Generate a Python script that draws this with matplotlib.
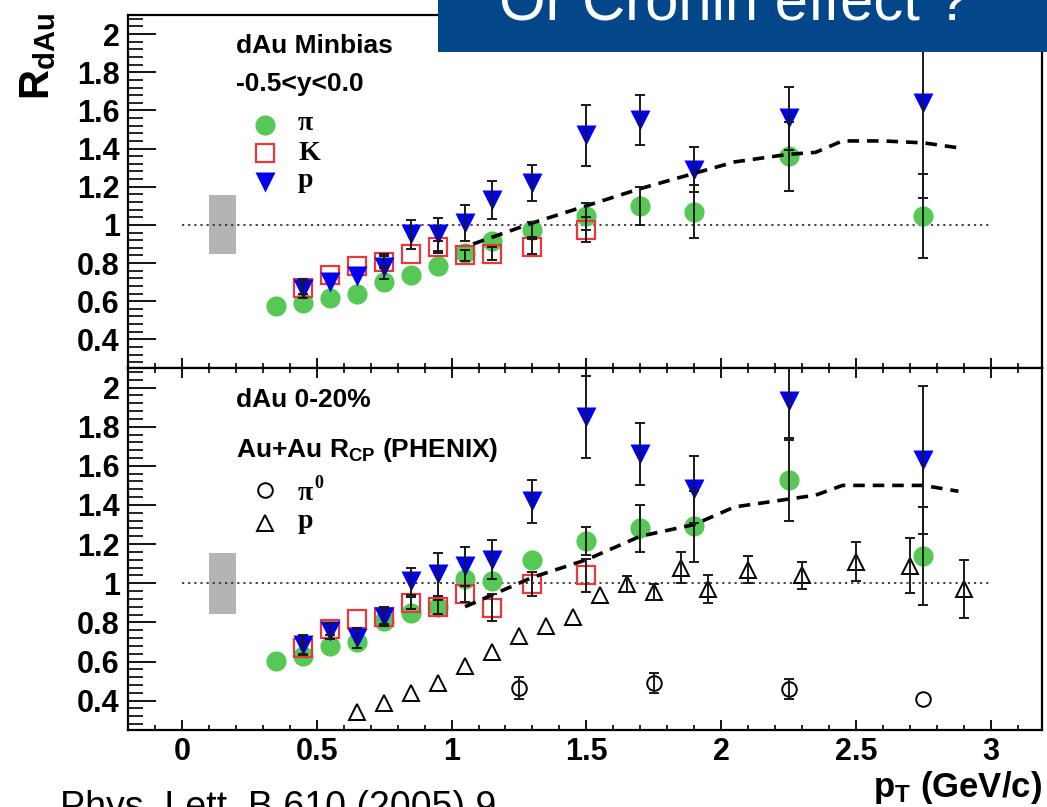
import matplotlib
matplotlib.use("Agg")
import matplotlib.pyplot as plt
from matplotlib.patches import Rectangle
from matplotlib.ticker import MultipleLocator, FuncFormatter

plt.rcParams['font.family'] = ['Liberation Sans', 'DejaVu Sans']
plt.rcParams['mathtext.fontset'] = 'custom'
plt.rcParams['mathtext.bf'] = 'Liberation Sans:bold'
plt.rcParams['mathtext.rm'] = 'Liberation Sans:bold'
plt.rcParams['mathtext.it'] = 'Liberation Sans:bold'

# ---- d+Au minimum bias, -0.5<y<0.0 ----
pt_pi = [0.35, 0.45, 0.55, 0.65, 0.75, 0.85, 0.95, 1.05, 1.15, 1.3, 1.5, 1.7, 1.9, 2.25, 2.75]
mb_pi = [0.575, 0.59, 0.615, 0.64, 0.70, 0.74, 0.785, 0.855, 0.915, 0.975, 1.045, 1.10, 1.07, 1.36, 1.045]
mb_pi_err = [0, 0, 0, 0, 0, 0, 0, 0, 0, 0.04, 0.07, 0.10, 0.14, 0.18, 0.22]

pt_k = [0.45, 0.55, 0.65, 0.75, 0.85, 0.95, 1.05, 1.15, 1.3, 1.5]
mb_k = [0.667, 0.735, 0.785, 0.805, 0.845, 0.885, 0.84, 0.85, 0.885, 0.975]
mb_k_err = [0.03, 0, 0, 0.03, 0, 0.03, 0.03, 0.035, 0.04, 0.065]

pt_p = [0.45, 0.55, 0.65, 0.75, 0.85, 0.95, 1.05, 1.15, 1.3, 1.5, 1.7, 1.9, 2.25, 2.75]
mb_p = [0.665, 0.70, 0.73, 0.78, 0.95, 0.95, 1.01, 1.13, 1.22, 1.47, 1.55, 1.29, 1.56, 1.64]
mb_p_err = [0.05, 0, 0, 0.065, 0.075, 0.085, 0.095, 0.10, 0.095, 0.16, 0.13, 0.12, 0.165, 0.5]

mb_curve_pt = [1.08, 1.3, 1.5, 1.7, 1.9, 2.05, 2.25, 2.35, 2.45, 2.6, 2.75, 2.9]
mb_curve = [0.90, 1.01, 1.10, 1.19, 1.27, 1.33, 1.37, 1.38, 1.44, 1.44, 1.43, 1.40]

# ---- d+Au 0-20% central ----
c_pi = [0.605, 0.63, 0.68, 0.70, 0.805, 0.85, 0.88, 1.02, 1.01, 1.12, 1.215, 1.28, 1.29, 1.53, 1.14]
c_pi_err = [0, 0, 0, 0, 0, 0, 0, 0, 0, 0, 0.07, 0.12, 0.18, 0.21, 0.25]

c_k = [0.67, 0.765, 0.815, 0.825, 0.90, 0.88, 0.945, 0.875, 0.995, 1.04]
c_k_err = [0.03, 0.03, 0, 0.035, 0.03, 0.035, 0.04, 0.07, 0.06, 0.085]

c_p = [0.685, 0.755, 0.72, 0.83, 1.01, 1.045, 1.087, 1.12, 1.42, 1.85, 1.66, 1.48, 1.93, 1.63]
c_p_err = [0.05, 0.04, 0.05, 0.05, 0.07, 0.11, 0.10, 0.10, 0.11, 0.21, 0.16, 0.17, 0.20, 0.38]

c_curve_pt = [1.05, 1.2, 1.3, 1.5, 1.7, 1.9, 2.05, 2.25, 2.35, 2.45, 2.6, 2.75, 2.88]
c_curve = [0.88, 0.97, 1.03, 1.12, 1.24, 1.30, 1.39, 1.43, 1.45, 1.50, 1.50, 1.50, 1.47]

# ---- Au+Au R_CP (PHENIX) ----
aa_p_pt = [0.65, 0.75, 0.85, 0.95, 1.05, 1.15, 1.25, 1.35, 1.45, 1.55, 1.65, 1.75, 1.85, 1.95,
           2.1, 2.3, 2.5, 2.7, 2.9]
aa_p = [0.34, 0.39, 0.44, 0.49, 0.575, 0.65, 0.73, 0.78, 0.825, 0.94, 0.995, 0.955, 1.08, 0.97,
        1.07, 1.04, 1.11, 1.09, 0.97]
aa_p_err = [0, 0, 0, 0, 0, 0, 0, 0, 0, 0, 0.04, 0.04, 0.08, 0.07,
            0.07, 0.07, 0.10, 0.14, 0.15]

aa_pi0_pt = [1.25, 1.75, 2.25, 2.75]
aa_pi0 = [0.465, 0.49, 0.46, 0.41]
aa_pi0_err = [0.055, 0.05, 0.05, 0]

GREEN = '#55c855'
RED = '#e8383d'
BLUE = '#0000f0'
W, H = 1047, 807

fig = plt.figure(figsize=(W / 100, H / 100), dpi=100)
left, right = 128 / W, 1042 / W
ax1 = fig.add_axes([left, 1 - 368 / H, right - left, 353 / H])
ax2 = fig.add_axes([left, 1 - 730 / H, right - left, 362 / H])

num_fmt = FuncFormatter(lambda v, p: f"{v:g}")


def bars(ax, x, y, e):
    keep = [i for i, v in enumerate(e) if v > 0]
    ax.errorbar([x[i] for i in keep], [y[i] for i in keep], yerr=[e[i] for i in keep],
                fmt='none', ecolor='#1a1a1a', elinewidth=1.4, capsize=3.5,
                capthick=1.4, zorder=7)


def style(ax, xlabels):
    ax.set_xlim(-0.2, 3.19)
    ax.set_ylim(0.25, 2.1)
    for s in ax.spines.values():
        s.set_linewidth(1.6)
    ax.yaxis.set_major_locator(MultipleLocator(0.2))
    ax.yaxis.set_minor_locator(MultipleLocator(0.04))
    ax.xaxis.set_major_locator(MultipleLocator(0.5))
    ax.xaxis.set_minor_locator(MultipleLocator(0.1))
    ax.yaxis.set_major_formatter(num_fmt)
    ax.xaxis.set_major_formatter(num_fmt)
    ax.tick_params(axis='y', which='major', direction='in', length=20, width=1.3,
                   labelsize=22, pad=6, right=False)
    ax.tick_params(axis='y', which='minor', direction='in', length=11, width=1.2, right=False)
    ax.tick_params(axis='x', which='major', direction='in', length=7.5, width=1.3,
                   labelsize=22, pad=5, labelbottom=xlabels)
    ax.tick_params(axis='x', which='minor', direction='in', length=3.8, width=1.2)
    for lab in ax.get_xticklabels() + ax.get_yticklabels():
        lab.set_fontweight('bold')


def draw_panel(ax, pi, pi_err, k, k_err, p, p_err, cpt, cval):
    ax.add_patch(Rectangle((0.1, 0.845), 0.1, 0.31, facecolor='#b4b4b4',
                           edgecolor='none', zorder=1))
    ax.plot([0, 3.0], [1, 1], color='#333333', ls=(0, (1.2, 2.2)), lw=1.3, zorder=1)
    ax.plot(cpt, cval, color='black', ls=(0, (3.2, 2.2)), lw=2.6, zorder=6)
    ax.plot(pt_pi, pi, 'o', color=GREEN, ms=14.5, mec='none', zorder=3)
    ax.plot(pt_k, k, 's', mfc='none', mec=RED, mew=1.6, ms=13, zorder=4)
    ax.plot(pt_p, p, 'v', color=BLUE, ms=14, mec='none', zorder=5)
    bars(ax, pt_pi, pi, pi_err)
    bars(ax, pt_k, k, k_err)
    bars(ax, pt_p, p, p_err)


# top panel
draw_panel(ax1, mb_pi, mb_pi_err, mb_k, mb_k_err, mb_p, mb_p_err, mb_curve_pt, mb_curve)
style(ax1, False)
ax1.tick_params(axis='x', which='both', top=False)

ax1.text(0.118, 0.892, 'dAu Minbias', transform=ax1.transAxes, fontsize=19,
         fontweight='bold', va='baseline')
ax1.text(0.118, 0.785, '-0.5<y<0.0', transform=ax1.transAxes, fontsize=19,
         fontweight='bold', va='baseline')
serif = ['Liberation Serif', 'DejaVu Serif']
ax1.plot([0.150], [0.688], 'o', color=GREEN, ms=14.5, mec='none', transform=ax1.transAxes,
         clip_on=False)
ax1.plot([0.150], [0.609], 's', mfc='none', mec=RED, mew=1.6, ms=13,
         transform=ax1.transAxes, clip_on=False)
ax1.plot([0.150], [0.527], 'v', color=BLUE, ms=14, mec='none', transform=ax1.transAxes,
         clip_on=False)
ax1.text(0.186, 0.674, 'π', transform=ax1.transAxes, fontsize=20, family=serif,
         fontweight='bold', va='baseline')
ax1.text(0.186, 0.589, 'K', transform=ax1.transAxes, fontsize=20, family=serif,
         fontweight='bold', va='baseline')
ax1.text(0.186, 0.513, 'p', transform=ax1.transAxes, fontsize=20, family=serif,
         fontweight='bold', va='baseline')

# bottom panel
draw_panel(ax2, c_pi, c_pi_err, c_k, c_k_err, c_p, c_p_err, c_curve_pt, c_curve)
ax2.plot(aa_p_pt, aa_p, '^', mfc='white', mec='black', mew=1.4, ms=12, zorder=4)
bars(ax2, aa_p_pt, aa_p, aa_p_err)
ax2.plot(aa_pi0_pt, aa_pi0, 'o', mfc='white', mec='black', mew=1.4, ms=10.5, zorder=4)
bars(ax2, aa_pi0_pt, aa_pi0, aa_pi0_err)
style(ax2, True)
ax2.tick_params(axis='x', which='both', top=True)

ax2.text(0.118, 0.892, 'dAu 0-20%', transform=ax2.transAxes, fontsize=19,
         fontweight='bold', va='baseline')
ax2.text(0.118, 0.754, r'Au+Au $\mathbf{R}_{\mathbf{CP}}$ (PHENIX)', transform=ax2.transAxes,
         fontsize=19, fontweight='bold', va='baseline')
ax2.plot([0.150], [0.663], 'o', mfc='white', mec='black', mew=1.4, ms=10.5,
         transform=ax2.transAxes, clip_on=False)
ax2.plot([0.150], [0.572], '^', mfc='white', mec='black', mew=1.4, ms=12,
         transform=ax2.transAxes, clip_on=False)
ax2.text(0.186, 0.635, 'π', transform=ax2.transAxes, fontsize=20, family=serif,
         fontweight='bold', va='baseline')
ax2.text(0.2035, 0.668, '0', transform=ax2.transAxes, fontsize=13, family=serif,
         fontweight='bold', va='baseline')
ax2.text(0.186, 0.558, 'p', transform=ax2.transAxes, fontsize=20, family=serif,
         fontweight='bold', va='baseline')

# axis titles
fig.text(38 / W, 1 - 56 / H, r'$\mathbf{R}_{\mathbf{dAu}}$', rotation=90, fontsize=30,
         ha='center', va='center')
fig.text(1042 / W, 1 - 797 / H, r'$\mathbf{p}_{\mathbf{T}}$ (GeV/c)', fontsize=25,
         fontweight='bold', ha='right', va='baseline')

# banner and reference line
fig.add_artist(Rectangle((438 / W, 1 - 52 / H), (W - 438) / W, 52 / H,
                         transform=fig.transFigure, facecolor='#03478a',
                         edgecolor='none', zorder=10))
fig.text(499 / W, 1 - 20 / H, 'Or Cronin effect ?', color='white', fontsize=43,
         ha='left', va='baseline', zorder=11)
fig.text(60 / W, -11 / H, 'Phys. Lett. B 610 (2005) 9', color='black', fontsize=27,
         ha='left', va='baseline')

fig.savefig('out.png', dpi=100)
